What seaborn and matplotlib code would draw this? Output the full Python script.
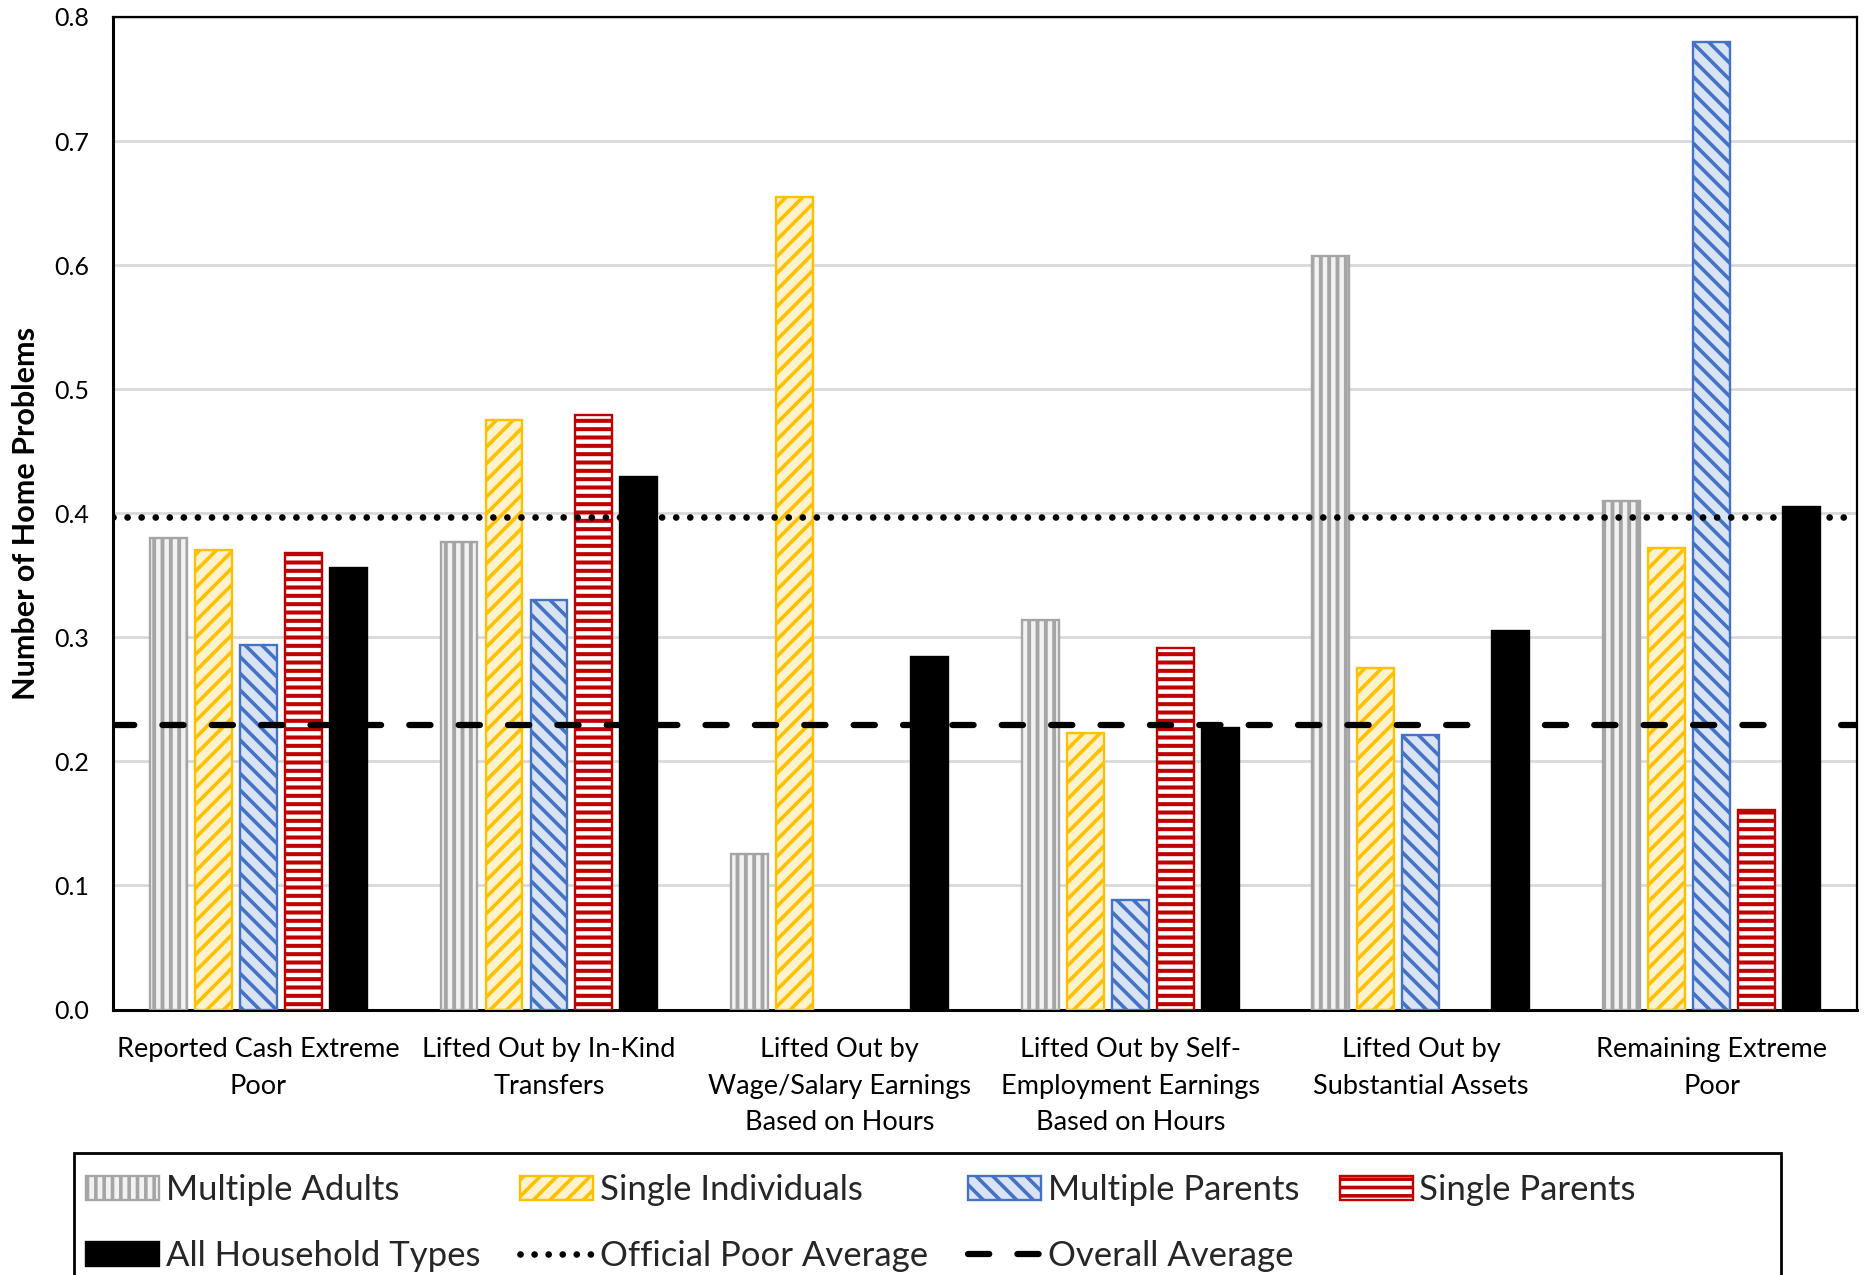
import numpy as np
import pandas as pd
import matplotlib
matplotlib.use("Agg")
import matplotlib.pyplot as plt
import seaborn as sns
from matplotlib.patches import Patch, Rectangle
from matplotlib.lines import Line2D

# ---- data -------------------------------------------------------------
categories = [
    "Reported Cash Extreme\nPoor",
    "Lifted Out by In-Kind\nTransfers",
    "Lifted Out by\nWage/Salary Earnings\nBased on Hours",
    "Lifted Out by Self-\nEmployment Earnings\nBased on Hours",
    "Lifted Out by\nSubstantial Assets",
    "Remaining Extreme\nPoor",
]
household_types = ["Multiple Adults", "Single Individuals", "Multiple Parents",
                   "Single Parents", "All Household Types"]

multiple_adults = [0.380, 0.377, 0.125, 0.314, 0.607, 0.410]
single_individuals = [0.370, 0.475, 0.655, 0.223, 0.275, 0.372]
multiple_parents = [0.294, 0.330, np.nan, 0.088, 0.221, 0.780]
single_parents = [0.368, 0.479, np.nan, 0.291, np.nan, 0.161]
all_households = [0.356, 0.429, 0.284, 0.227, 0.305, 0.405]

official_poor_average = 0.397
overall_average = 0.229

y_ticks = [0.0, 0.1, 0.2, 0.3, 0.4, 0.5, 0.6, 0.7, 0.8]

# ---- long-form table for seaborn ---------------------------------------
series = [multiple_adults, single_individuals, multiple_parents,
          single_parents, all_households]
rows = []
for name, vals in zip(household_types, series):
    for cat, v in zip(categories, vals):
        rows.append({"category": cat, "type": name, "value": v})
df = pd.DataFrame(rows)

# ---- styles -----------------------------------------------------------
styles = {
    "Multiple Adults":     dict(face="#F2F2F2", edge="#A5A5A5", hatch="||",   hlw=2.8),
    "Single Individuals":  dict(face="#FFF2CC", edge="#FFC000", hatch="//",   hlw=2.6),
    "Multiple Parents":    dict(face="#DAE3F3", edge="#4472C4", hatch="\\\\", hlw=2.6),
    "Single Parents":      dict(face="#FFFFFF", edge="#C00000", hatch="--",   hlw=2.9),
    "All Household Types": dict(face="#000000", edge="#000000", hatch=None,   hlw=1.0),
}

DOTTED = (0, (0.01, 2.1))
DASHED = (0, (3.4, 4.5))

sns.set_theme(style="white")
plt.rcParams["font.family"] = ["Lato", "DejaVu Sans"]
plt.rcParams["hatch.linewidth"] = 2.6

fig = plt.figure(figsize=(18.64, 12.75), dpi=100)
ax = fig.add_axes([0.0606, 0.2082, 0.9356, 0.7785])

sns.barplot(data=df, x="category", y="value", hue="type",
            hue_order=household_types, order=categories,
            palette=[styles[h]["face"] for h in household_types],
            width=0.774, gap=0.18, legend=False, ax=ax, zorder=3)

for cont, name in zip(ax.containers, household_types):
    st = styles[name]
    for p in cont.patches:
        p.set_facecolor(st["face"])
        p.set_edgecolor(st["edge"])
        p.set_linewidth(1.7)
        if st["hatch"]:
            p.set_hatch(st["hatch"])
            if hasattr(p, "set_hatch_linewidth"):
                p.set_hatch_linewidth(st["hlw"])

# reference lines
ax.axhline(official_poor_average, color="black", lw=4.8,
           linestyle=DOTTED, dash_capstyle="round", zorder=5)
ax.axhline(overall_average, color="black", lw=4.5,
           linestyle=DASHED, dash_capstyle="round", zorder=5)

# axes
ax.set_ylim(0, 0.8)
ax.set_xlim(-0.5, len(categories) - 0.5)
ax.set_yticks(y_ticks)
ax.set_yticklabels([f"{t:.1f}" for t in y_ticks])
ax.yaxis.grid(True, color="#D9D9D9", lw=2.0, zorder=0)
ax.set_axisbelow(True)
ax.tick_params(axis="y", length=0, pad=17, labelsize=18, colors="black")
ax.tick_params(axis="x", length=0, pad=20, labelsize=19.5, colors="black")
for lbl in ax.get_xticklabels():
    lbl.set_linespacing(1.56)
ax.set_xlabel("")
ax.set_ylabel("Number of Home Problems", fontsize=22, fontweight="bold",
              color="black", labelpad=10)
for s in ax.spines.values():
    s.set_visible(True)
    s.set_color("black")
    s.set_linewidth(1.6)
ax.spines["left"].set_linewidth(2.2)
ax.spines["bottom"].set_linewidth(2.2)

# legend (row-major order across four columns)
def bar_handle(name):
    st = styles[name]
    return Patch(facecolor=st["face"], edgecolor=st["edge"],
                 hatch=st["hatch"], linewidth=1.7)

h_ma = bar_handle("Multiple Adults")
h_si = bar_handle("Single Individuals")
h_mp = bar_handle("Multiple Parents")
h_sp = bar_handle("Single Parents")
h_all = bar_handle("All Household Types")
h_off = Line2D([], [], color="black", lw=4.8, linestyle=DOTTED,
               dash_capstyle="round")
h_ovr = Line2D([], [], color="black", lw=4.5, linestyle=DASHED,
               dash_capstyle="round")

handles = [h_ma, h_all, h_si, h_off, h_mp, h_ovr, h_sp]
labels = ["Multiple Adults", "All Household Types", "Single Individuals",
          "Official Poor Average", "Multiple Parents", "Overall Average",
          "Single Parents"]

box_left, box_top = 74 / 1864, 1 - 1153 / 1275
leg = fig.legend(handles, labels, ncol=4, loc="upper left",
                 bbox_to_anchor=(box_left - 7 / 1864, box_top - 2 / 1275),
                 fontsize=25, frameon=False,
                 handlelength=2.1, handleheight=0.7,
                 handletextpad=0.2, columnspacing=1.15, labelspacing=0.98,
                 borderpad=0.55, borderaxespad=0)

# legend box, running off the bottom edge of the figure
box_right = 1781 / 1864
fig.patches.append(Rectangle((box_left, -0.05), box_right - box_left,
                             box_top + 0.05, transform=fig.transFigure,
                             fill=False, edgecolor="black", linewidth=2.0,
                             zorder=10))

fig.savefig("out.png", dpi=100)
